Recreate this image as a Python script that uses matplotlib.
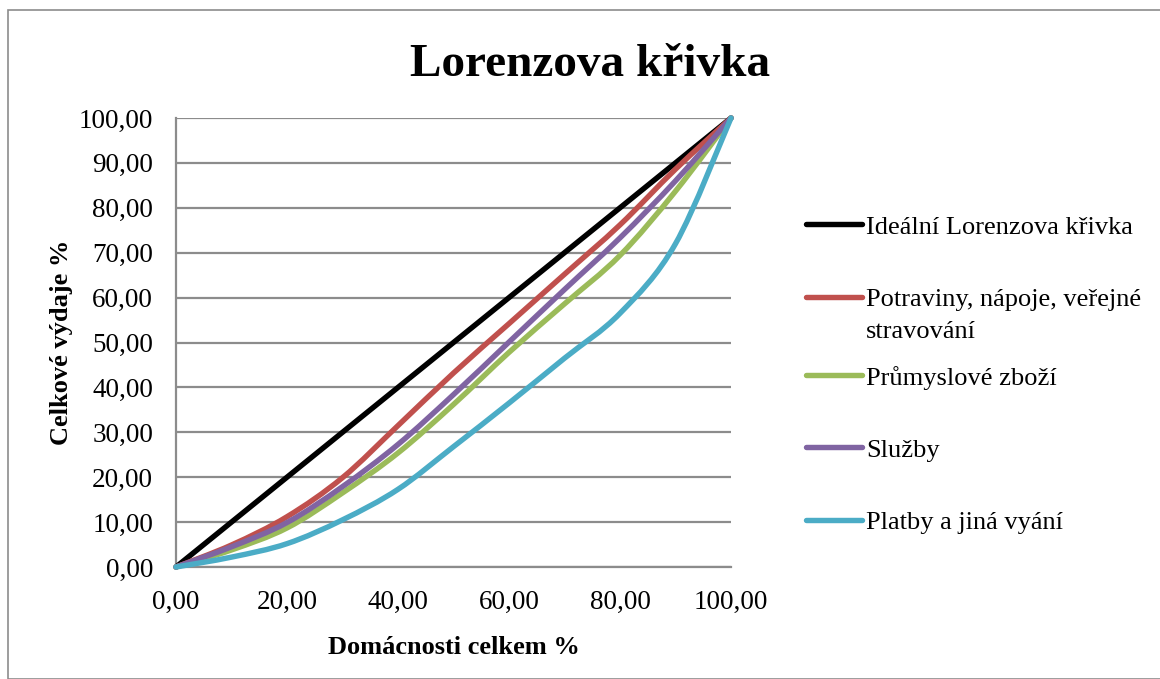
import matplotlib
matplotlib.use("Agg")
import matplotlib.pyplot as plt
from matplotlib.path import Path
from matplotlib.patches import PathPatch, Rectangle
from matplotlib.lines import Line2D
import numpy as np

plt.rcParams['font.family'] = ['Liberation Serif', 'DejaVu Serif']

# podil domacnosti (%)
domacnosti = [0, 10, 20, 30, 40, 50, 60, 70, 80, 90, 100]

idealni = [0, 10, 20, 30, 40, 50, 60, 70, 80, 90, 100]
potraviny = [0, 4.9, 11.2, 19.9, 31.5, 43.2, 54.2, 65.2, 76.2, 88.6, 100]
prumysl = [0, 3.8, 8.7, 16.5, 25.4, 36.2, 47.8, 58.6, 69.4, 83.7, 100]
sluzby = [0, 4.5, 9.9, 17.9, 27.3, 38.4, 50.1, 61.8, 73.3, 86.0, 100]
platby = [0, 2.2, 5.2, 10.5, 17.3, 26.8, 36.5, 46.5, 56.5, 72.0, 100]

nazvy = ["Ideální Lorenzova křivka",
         "Potraviny, nápoje, veřejné\nstravování",
         "Průmyslové zboží",
         "Služby",
         "Platby a jiná vyání"]
rady = [idealni, potraviny, prumysl, sluzby, platby]
barvy = ["#000000", "#C0504D", "#9BBB59", "#8064A2", "#4BACC6"]


def smoothPath(xs, ys):
    # Excel-like smoothed line: cubic bezier through the points
    p = np.column_stack([xs, ys]).astype(float)
    n = len(p)
    verts = [p[0]]
    codes = [Path.MOVETO]
    for i in range(n - 1):
        p0 = p[i - 1] if i > 0 else p[i]
        p3 = p[i + 2] if i + 2 < n else p[i + 1]
        c1 = p[i] + (p[i + 1] - p0) / 6.0
        c2 = p[i + 1] - (p3 - p[i]) / 6.0
        verts += [c1, c2, p[i + 1]]
        codes += [Path.CURVE4] * 3
    return Path(verts, codes)


fig = plt.figure(figsize=(11.6, 6.79), dpi=100)
W, H = 1160, 679

# ramecek grafu
fig.add_artist(Rectangle((7.5 / W, 0), 1.2, (H - 9.5) / H, transform=fig.transFigure,
                         fill=False, edgecolor="#8C8C8C", linewidth=1.2))

ax = fig.add_axes([176 / W, (H - 567) / H, (731 - 176) / W, (567 - 118) / H])
ax.set_xlim(0, 100)
ax.set_ylim(0, 100)
ax.set_yticks(np.arange(0, 101, 10))
ax.set_xticks(np.arange(0, 101, 20))
ax.yaxis.set_major_formatter(lambda v, pos: ("%.2f" % v).replace(".", ","))
ax.xaxis.set_major_formatter(lambda v, pos: ("%.2f" % v).replace(".", ","))
ax.tick_params(length=0, labelsize=19.5, pad=16.5)
ax.grid(axis='y', color="#8C8C8C", linewidth=1.6)
ax.set_axisbelow(True)
for s in ['top', 'right']:
    ax.spines[s].set_visible(False)
for s in ['left', 'bottom']:
    ax.spines[s].set_color("#8C8C8C")
    ax.spines[s].set_linewidth(1.6)

for r, c in zip(rady, barvy):
    ax.add_patch(PathPatch(smoothPath(domacnosti, r), facecolor='none', edgecolor=c,
                           linewidth=3.9, capstyle='round', joinstyle='round',
                           clip_on=False, zorder=3))

ax.set_xlabel("Domácnosti celkem %", fontsize=19, fontweight='bold', labelpad=15)
ax.set_ylabel("Celkové výdaje %", fontsize=19, fontweight='bold', labelpad=4)
fig.text(590 / W, 1 - 76 / H, "Lorenzova křivka", fontsize=34, fontweight='bold',
         ha='center', va='baseline')

# legenda
leg_y = [224, 297, 375, 447, 520]
for nm, c, yy in zip(nazvy, barvy, leg_y):
    yf = 1 - yy / H
    fig.add_artist(Line2D([806 / W, 862 / W], [yf, yf], transform=fig.transFigure,
                          color=c, linewidth=3.9, solid_capstyle='round'))
    for k, radek in enumerate(nm.split("\n")):
        fig.text(866 / W, 1 - (yy + 9.5 + 32 * k) / H, radek, fontsize=19,
                 ha='left', va='baseline')

fig.savefig("out.png", dpi=100)
